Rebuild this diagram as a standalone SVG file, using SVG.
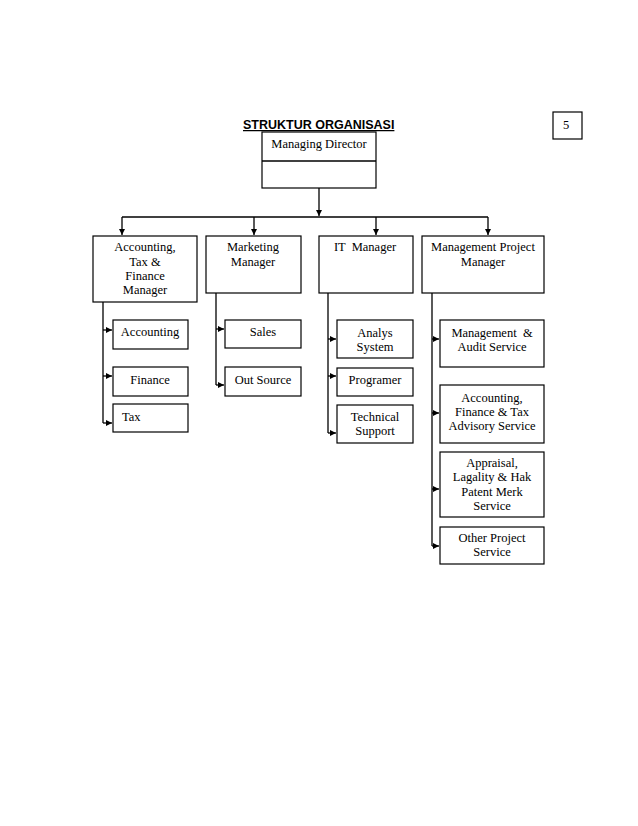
<svg xmlns="http://www.w3.org/2000/svg" width="638" height="826" viewBox="0 0 638 826">
<style>
.b{fill:#fff;stroke:#000;stroke-width:1.2}
.t{font-family:"Liberation Serif","Times New Roman",serif;font-size:12.5px;fill:#000;text-anchor:middle}
.s{text-anchor:start}
.l{fill:none;stroke:#000;stroke-width:1.3}
</style>
<defs>
<marker id="a" viewBox="0 0 8 8" refX="8" refY="4" markerWidth="6.5" markerHeight="6" markerUnits="userSpaceOnUse" orient="auto">
<path d="M0,0L8,4L0,8z" fill="#000"/>
</marker>
</defs>
<rect width="638" height="826" fill="#fff"/>
<text x="243" y="129" font-family="'Liberation Sans',Arial,sans-serif" font-weight="bold" font-size="12.5" text-decoration="underline">STRUKTUR ORGANISASI</text>
<g id="page"><rect class="b" x="553" y="112" width="29" height="27"/><text x="563" y="129" font-family="'Liberation Serif',serif" font-size="12.5">5</text></g>

<g id="connectors">
<path class="l" d="M319,188V216" marker-end="url(#a)"/>
<path class="l" d="M122,217H488"/>
<path class="l" d="M122,217V235" marker-end="url(#a)"/>
<path class="l" d="M254,217V235" marker-end="url(#a)"/>
<path class="l" d="M376,217V235" marker-end="url(#a)"/>
<path class="l" d="M488,217V235" marker-end="url(#a)"/>
<path class="l" d="M103,302V423"/>
<path class="l" d="M103,330H112" marker-end="url(#a)"/>
<path class="l" d="M103,376H112" marker-end="url(#a)"/>
<path class="l" d="M103,423H112" marker-end="url(#a)"/>
<path class="l" d="M216,293V385"/>
<path class="l" d="M216,329H224" marker-end="url(#a)"/>
<path class="l" d="M216,385H224" marker-end="url(#a)"/>
<path class="l" d="M328,293V433"/>
<path class="l" d="M328,339H336" marker-end="url(#a)"/>
<path class="l" d="M328,376H336" marker-end="url(#a)"/>
<path class="l" d="M328,433H336" marker-end="url(#a)"/>
<path class="l" d="M432,293V546"/>
<path class="l" d="M432,339H439" marker-end="url(#a)"/>
<path class="l" d="M432,413H439" marker-end="url(#a)"/>
<path class="l" d="M432,489H439" marker-end="url(#a)"/>
<path class="l" d="M432,546H439" marker-end="url(#a)"/>
</g>

<g id="md"><rect class="b" x="262" y="132" width="114" height="56"/><path class="l" d="M262,161H376"/><text class="t" x="319" y="148">Managing Director</text></g>

<g id="atf"><rect class="b" x="93" y="236" width="104" height="66"/><text class="t" x="145" y="251">Accounting,</text><text class="t" x="145" y="266">Tax &amp;</text><text class="t" x="145" y="280">Finance</text><text class="t" x="145" y="294">Manager</text></g>
<g id="mkt"><rect class="b" x="206" y="236" width="95" height="57"/><text class="t" x="253" y="251">Marketing</text><text class="t" x="253" y="266">Manager</text></g>
<g id="it"><rect class="b" x="319" y="236" width="94" height="57"/><text class="t" x="365" y="251" xml:space="preserve">IT  Manager</text></g>
<g id="mpm"><rect class="b" x="422" y="236" width="122" height="57"/><text class="t" x="483" y="251">Management Project</text><text class="t" x="483" y="266">Manager</text></g>

<g id="accounting"><rect class="b" x="113" y="320" width="75" height="29"/><text class="t" x="150" y="336">Accounting</text></g>
<g id="finance"><rect class="b" x="113" y="367" width="75" height="29"/><text class="t" x="150" y="384">Finance</text></g>
<g id="tax"><rect class="b" x="113" y="404" width="75" height="28"/><text class="t s" x="122" y="421">Tax</text></g>

<g id="sales"><rect class="b" x="225" y="320" width="76" height="28"/><text class="t" x="263" y="336">Sales</text></g>
<g id="outsource"><rect class="b" x="225" y="367" width="76" height="29"/><text class="t" x="263" y="384">Out Source</text></g>

<g id="analys"><rect class="b" x="337" y="320" width="76" height="38"/><text class="t" x="375" y="337">Analys</text><text class="t" x="375" y="351">System</text></g>
<g id="programer"><rect class="b" x="337" y="368" width="76" height="28"/><text class="t" x="375" y="384">Programer</text></g>
<g id="techsupport"><rect class="b" x="337" y="405" width="76" height="38"/><text class="t" x="375" y="421">Technical</text><text class="t" x="375" y="435">Support</text></g>

<g id="mas"><rect class="b" x="440" y="320" width="104" height="47"/><text class="t" x="492" y="337" xml:space="preserve">Management  &amp;</text><text class="t" x="492" y="351">Audit Service</text></g>
<g id="aftas"><rect class="b" x="440" y="385" width="104" height="58"/><text class="t" x="492" y="402">Accounting,</text><text class="t" x="492" y="416">Finance &amp; Tax</text><text class="t" x="492" y="430">Advisory Service</text></g>
<g id="appraisal"><rect class="b" x="440" y="452" width="104" height="65"/><text class="t" x="492" y="467">Appraisal,</text><text class="t" x="492" y="481">Lagality &amp; Hak</text><text class="t" x="492" y="496">Patent Merk</text><text class="t" x="492" y="510">Service</text></g>
<g id="other"><rect class="b" x="440" y="527" width="104" height="37"/><text class="t" x="492" y="542">Other Project</text><text class="t" x="492" y="556">Service</text></g>
</svg>
